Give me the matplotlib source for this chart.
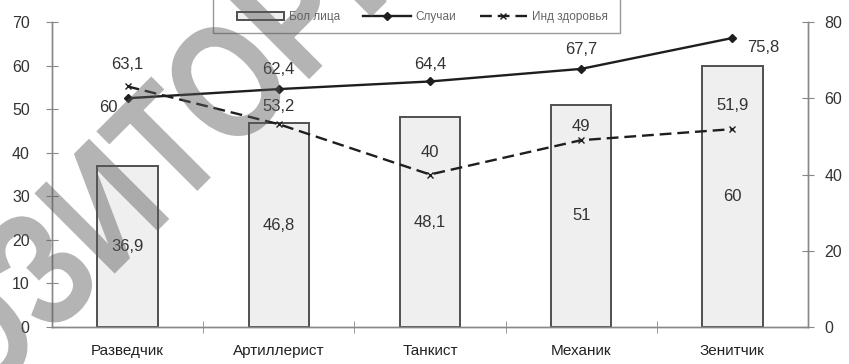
import numpy as np
import matplotlib
matplotlib.use("Agg")
import matplotlib.pyplot as plt
from matplotlib.ticker import MultipleLocator, FixedLocator, NullFormatter
from matplotlib.textpath import TextPath
from matplotlib.font_manager import FontProperties
from matplotlib.patches import PathPatch, Rectangle
from matplotlib.transforms import Affine2D, IdentityTransform

plt.rcParams['font.family'] = ['Liberation Sans', 'DejaVu Sans']

# данные
professii = ['Разведчик', 'Артиллерист', 'Танкист', 'Механик', 'Зенитчик']
bol_lica = [36.9, 46.8, 48.1, 51, 60]
sluchai = [60, 62.4, 64.4, 67.7, 75.8]
ind_zdorovya = [63.1, 53.2, 40, 49, 51.9]

# смещения подписей (в пунктах)
sdvig_sluchai = [(-14, -7), (0, 14), (0, 12), (0, 14), (22, -7)]
sdvig_ind = [(0, 16), (0, 13), (0, 16), (0, 10), (0, 17)]

def fmt(v):
    return ('%g' % v).replace('.', ',')

fig = plt.figure(figsize=(8.49, 3.64), dpi=100)
ax = fig.add_axes([0.0612, 0.1016, 0.8905, 0.838])
ax2 = ax.twinx()

x = np.arange(len(professii))
tc = '#333333'

# столбики - больные лица
bars = ax.bar(x, bol_lica, width=0.4, color='#efefef', edgecolor='#505050',
              linewidth=1.4, label='Бол лица', zorder=2)
for xi, v in zip(x, bol_lica):
    ax.text(xi, v / 2, fmt(v), ha='center', va='center', fontsize=12, color=tc)

# линии на правой оси
l1, = ax2.plot(x, sluchai, '-', color='#1e1e1e', lw=1.7, marker='D', ms=4.5,
               label='Случаи', zorder=3)
l2, = ax2.plot(x, ind_zdorovya, '--', color='#1e1e1e', lw=1.7, marker='x', ms=5,
               dashes=(5, 2.5), label='Инд здоровья', zorder=3)

for xi, v, d in zip(x, sluchai, sdvig_sluchai):
    ax2.annotate(fmt(v), (xi, v), xytext=d, textcoords='offset points',
                 ha='center', va='center', fontsize=12, color=tc)
for xi, v, d in zip(x, ind_zdorovya, sdvig_ind):
    ax2.annotate(fmt(v), (xi, v), xytext=d, textcoords='offset points',
                 ha='center', va='center', fontsize=12, color=tc)

ax.set_xlim(-0.5, len(professii) - 0.5)
ax.set_ylim(0, 70)
ax2.set_ylim(0, 80)
ax.yaxis.set_major_locator(MultipleLocator(10))
ax2.yaxis.set_major_locator(MultipleLocator(20))

ax.set_xticks(x)
ax.set_xticklabels(professii, fontsize=11, color='#222222')
ax.tick_params(axis='x', which='major', length=0, pad=12)
ax.xaxis.set_minor_locator(FixedLocator(np.arange(0.5, len(professii) - 0.5, 1)))
ax.xaxis.set_minor_formatter(NullFormatter())
ax.tick_params(axis='x', which='minor', direction='inout', length=8, color='#888888')

ax.tick_params(axis='y', direction='inout', length=8, color='#888888',
               labelsize=11.5, labelcolor=tc, pad=12)
ax2.tick_params(axis='y', direction='inout', length=8, color='#888888',
                labelsize=11.5, labelcolor=tc, pad=8)

for a in (ax, ax2):
    a.spines['top'].set_visible(False)
    for s in ('left', 'right', 'bottom'):
        a.spines[s].set_color('#888888')
        a.spines[s].set_linewidth(1.0)

# легенда сверху, рамка уходит за верхний край
leg = fig.legend([bars, l1, l2], ['Бол лица', 'Случаи', 'Инд здоровья'],
                 loc='center left', bbox_to_anchor=(226 / 849, 1 - 17 / 364), ncol=3,
                 fontsize=8.5, frameon=False, handlelength=4.0, handleheight=0.6,
                 columnspacing=2.0, handletextpad=0.4)
for t in leg.get_texts():
    t.set_color('#666666')
fig.patches.append(Rectangle((213 / 849, 1 - 33 / 364), (620 - 213) / 849, 0.2,
                             transform=fig.transFigure, fill=False,
                             edgecolor='#999999', linewidth=1.0))

# водяной знак, привязка по букве "З"
fp = FontProperties(family='Liberation Sans', weight='bold')
S = 165
slovo = 'РЕПОЗИТОРИЙ'
tp = TextPath((0, 0), slovo, size=S, prop=fp)
ext_z = TextPath((0, 0), 'З', size=S, prop=fp).get_extents()
ext_pre = TextPath((0, 0), slovo[:5], size=S, prop=fp).get_extents()
cx = ext_pre.x1 - ext_z.width / 2
cy = ext_z.y0 + ext_z.height / 2
tr = (Affine2D().translate(-cx, -cy).scale(0.8, 1.0).rotate_deg(45)
      .translate(38, 364 - 270))
fig.patches.append(PathPatch(tr.transform_path(tp), transform=IdentityTransform(),
                             facecolor='#5a5a5a', edgecolor='none', alpha=0.45,
                             zorder=10))

fig.savefig('out.png', dpi=100)
